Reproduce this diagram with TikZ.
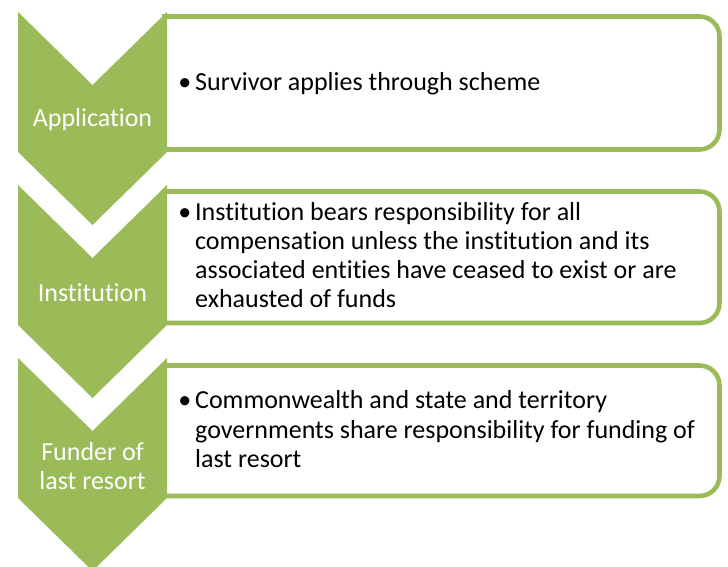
\documentclass[tikz,border=0pt]{standalone}
\usepackage{fontspec}
\setmainfont{Carlito}[Ligatures=NoCommon]
\definecolor{grn}{RGB}{155,187,89}
\begin{document}
\begin{tikzpicture}[x=1pt,y=-1pt,
  box/.style={draw=grn, line width=4.6pt, rounded corners=20pt, fill=white},
  chev/.style={fill=grn, draw=none},
  bodytxt/.style={anchor=base west, inner sep=0pt, text=black, font=\fontsize{26}{30}\selectfont},
  labtxt/.style={anchor=base, inner sep=0pt, text=white, font=\fontsize{26}{30}\selectfont}]
\useasboundingbox (0,0) rectangle (728,567);
\clip (0,0) rectangle (728,567);
% boxes
\begin{scope}
\clip (162,0) rectangle (728,567);
\path[box] (130,16.5) rectangle (719.5,149.5);
\path[box] (130,191.5) rectangle (719.5,323);
\path[box] (130,365.5) rectangle (719.5,496);
\end{scope}
% chevrons
\foreach \t in {12,185,358}{
  \path[chev] (18,\t) -- (92.5,\t+73) -- (167,\t) -- (167,\t+140) -- (92.5,\t+213) -- (18,\t+140) -- cycle;
}
% chevron labels
\node[labtxt] (l1) at (92.5,127) {Application};
\node[labtxt] (l2) at (92.5,301) {Institution};
\node[labtxt] (l3a) at (92.5,460) {Funder of};
\node[labtxt] (l3b) at (92.5,489) {last resort};
% box texts
\node[bodytxt] (a1) at (195,91) {\llap{•\hspace{4pt}}Survivor applies through scheme};
\node[bodytxt] (b1) at (195,220.5) {\llap{•\hspace{4pt}}Institution bears responsibility for all};
\node[bodytxt] (b2) at (195,249.5) {compensation unless the institution and its};
\node[bodytxt] (b3) at (195,278.5) {associated entities have ceased to exist or are};
\node[bodytxt] (b4) at (195,307.5) {exhausted of funds};
\node[bodytxt] (c1) at (195,408.5) {\llap{•\hspace{4pt}}Commonwealth and state and territory};
\node[bodytxt] (c2) at (195,438) {governments share responsibility for funding of};
\node[bodytxt] (c3) at (195,467.5) {last resort};
\end{tikzpicture}
\end{document}
